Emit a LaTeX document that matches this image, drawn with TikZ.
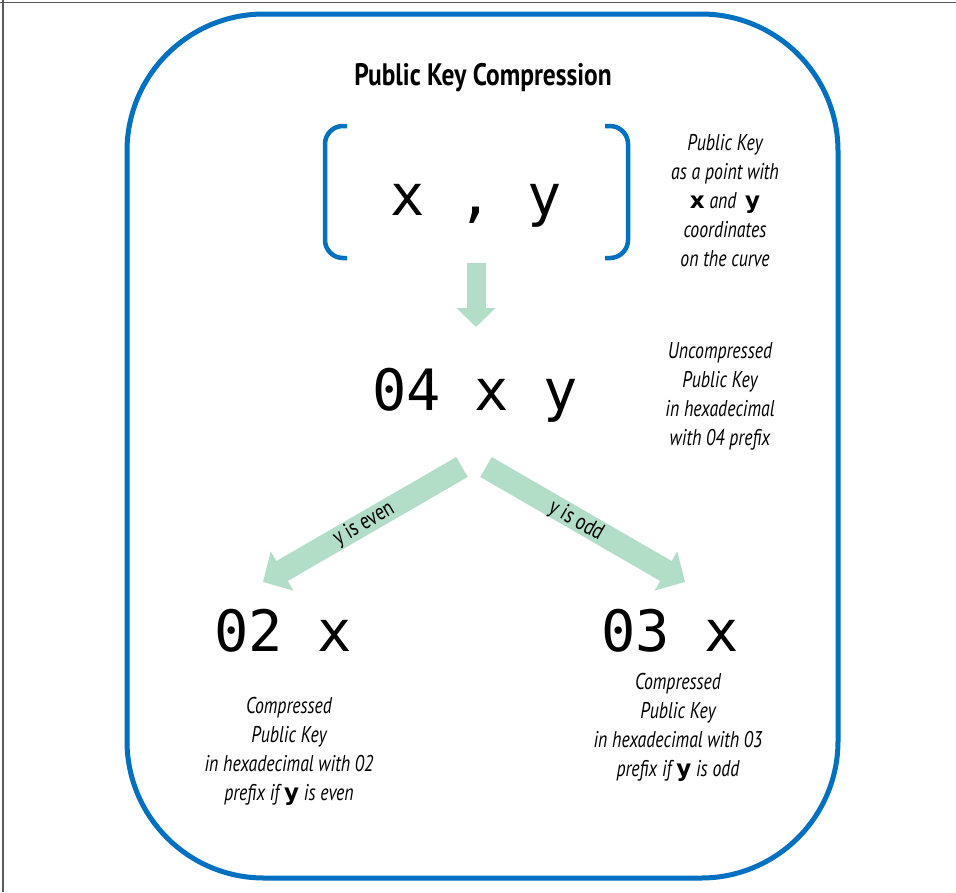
\documentclass[tikz,border=0pt]{standalone}
\usepackage{fontspec}
\usetikzlibrary{arrows.meta}
\newfontfamily\monofont{DejaVu Sans Mono}
\newfontfamily\descfont[FakeStretch=0.78]{PT Sans}
\newfontfamily\titlefont[FakeStretch=0.82]{PT Sans}
\newfontfamily\boldsans{DejaVu Sans}
\definecolor{frameblue}{RGB}{0,112,192}
\definecolor{arrowgreen}{RGB}{178,222,200}
\definecolor{edgegray}{RGB}{90,90,90}
\newcommand{\bxy}[1]{{\boldsans\bfseries\upshape\fontsize{23}{29}\selectfont #1}}
\begin{document}
\begin{tikzpicture}[x=1pt,y=-1pt,
  monotext/.style={inner sep=0pt, anchor=base, font=\monofont\fontsize{57}{60}\selectfont},
  desc/.style={inner sep=0pt, align=center, font=\descfont\itshape\fontsize{22.8}{29}\selectfont},
  bluepath/.style={draw=frameblue, line width=5pt},
  bracket/.style={draw=frameblue, line width=4.5pt, rounded corners=18pt},
  bigarrow/.style={draw=arrowgreen, line width=#1, -{Triangle[length=22pt,width=44pt]}},
  arrowlabel/.style={inner sep=0pt, font=\descfont\fontsize{23}{26}\selectfont}
]
\useasboundingbox (0,0) rectangle (956,892);
\fill[white] (0,0) rectangle (956,892);
% outer frame edges
\draw[edgegray, line width=1.5pt] (0,2.5) -- (956,2.5);
\draw[edgegray, line width=1.5pt] (3,0) -- (3,892);
% main rounded box
\draw[bluepath, rounded corners=137pt] (127,14) rectangle (838,878);
% title
\node[inner sep=0pt, font=\titlefont\bfseries\fontsize{31}{35}\selectfont] (title) at (483,78) {Public Key Compression};
% brackets
\draw[bracket] (347,126) -- (325,126) -- (325,258) -- (347,258);
\draw[bracket] (605,126) -- (628,126) -- (628,258) -- (605,258);
% point
\node[monotext] (pt) at (476,215) {x , y};
\node[desc] (d1) at (725,201) {Public Key\\as a point with\\\bxy{x} and \,\bxy{y}\\coordinates\\on the curve};
% uncompressed
\coordinate (a0s) at (476,263);
\coordinate (a0e) at (476,327);
\draw[draw=arrowgreen, line width=19pt, -{Triangle[length=19pt,width=38pt]}] (a0s) -- (a0e);
\node[monotext] (unc) at (475,410) {04 x y};
\node[desc] (d2) at (720,396) {Uncompressed\\Public Key\\in hexadecimal\\with 04 prefix};
% branches
\coordinate (als) at (462,467);
\coordinate (ale) at (263,582);
\coordinate (ars) at (486,467);
\coordinate (are) at (685,582);
\draw[bigarrow=23pt] (als) -- (ale);
\draw[bigarrow=23pt] (ars) -- (are);
\node[arrowlabel, rotate=30] (le) at (364,524) {y is even};
\node[arrowlabel, rotate=-30] (lo) at (576,521) {y is odd};
% compressed
\node[monotext] (c2) at (283,651) {02 x};
\node[monotext] (c3) at (670,651) {03 x};
\node[desc] (d3) at (289,751) {Compressed\\Public Key\\in hexadecimal with 02\\prefix if \bxy{y} is even};
\node[desc] (d4) at (678,727) {Compressed\\Public Key\\in hexadecimal with 03\\prefix if \bxy{y} is odd};
\end{tikzpicture}
\end{document}
